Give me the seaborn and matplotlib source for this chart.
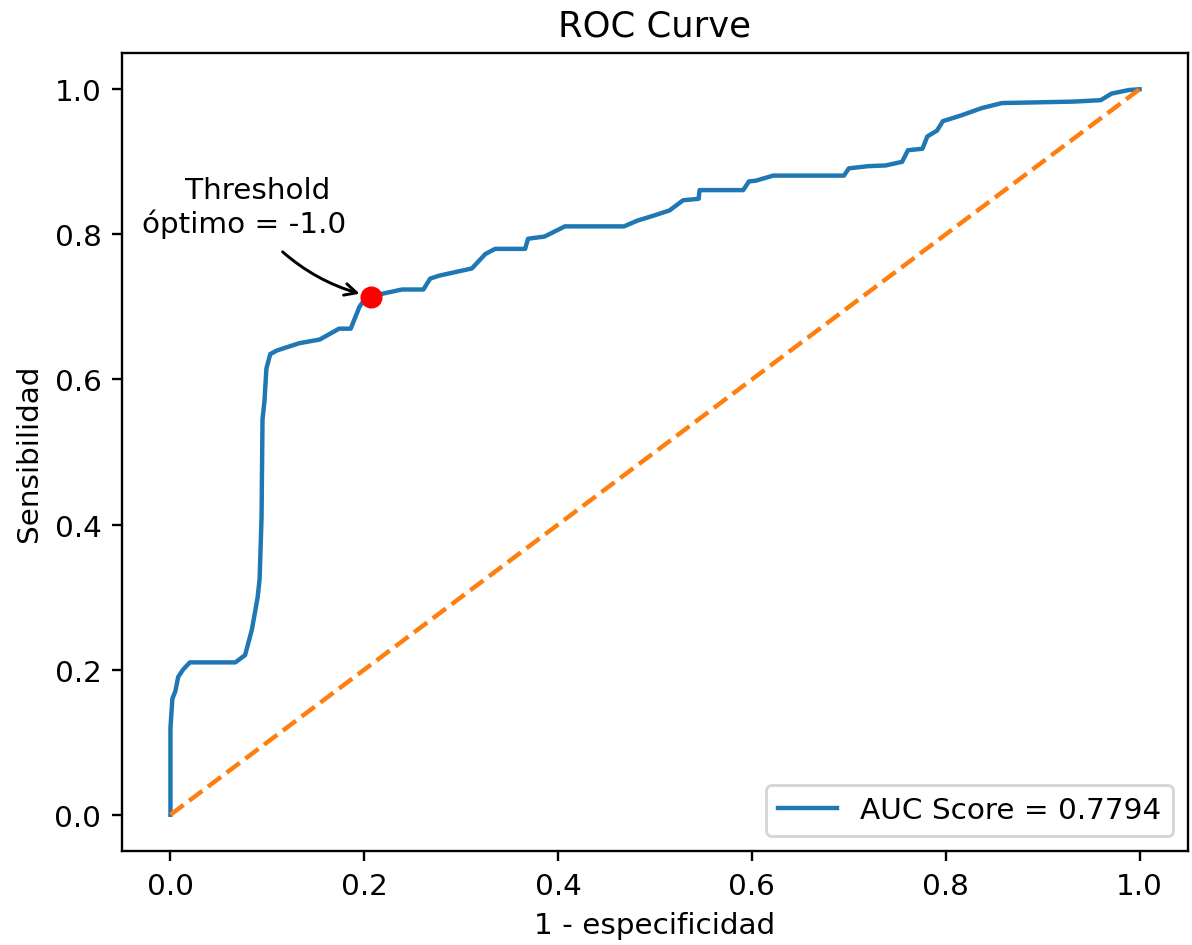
import matplotlib
matplotlib.use("Agg")
import matplotlib.pyplot as plt
import seaborn as sns
import pandas as pd
import numpy as np

fpr = [0.0, 0.0, 0.002, 0.005, 0.008, 0.013, 0.02, 0.067, 0.077, 0.084, 0.090, 0.092,
       0.094, 0.095, 0.097, 0.099, 0.103, 0.110, 0.133, 0.154, 0.174, 0.186, 0.195, 0.200,
       0.207, 0.218, 0.239, 0.261, 0.268, 0.277, 0.294, 0.311, 0.325, 0.335, 0.366, 0.369,
       0.386, 0.407, 0.468, 0.482, 0.499, 0.515, 0.529, 0.545, 0.546, 0.591, 0.597, 0.604,
       0.622, 0.695, 0.700, 0.720, 0.738, 0.755, 0.761, 0.776, 0.781, 0.791, 0.797, 0.816,
       0.837, 0.858, 0.932, 0.960, 0.971, 0.989, 1.0]
tpr = [0.0, 0.12, 0.16, 0.17, 0.19, 0.20, 0.21, 0.21, 0.22, 0.255, 0.30, 0.325,
       0.41, 0.545, 0.57, 0.615, 0.635, 0.64, 0.65, 0.655, 0.67, 0.67, 0.70, 0.71,
       0.714, 0.718, 0.724, 0.724, 0.739, 0.743, 0.748, 0.753, 0.773, 0.780, 0.780, 0.794,
       0.797, 0.811, 0.811, 0.819, 0.826, 0.833, 0.847, 0.849, 0.861, 0.861, 0.873, 0.874,
       0.881, 0.881, 0.891, 0.894, 0.895, 0.900, 0.916, 0.918, 0.935, 0.943, 0.956, 0.964,
       0.974, 0.981, 0.983, 0.985, 0.994, 0.999, 1.0]
diag = [0.0, 1.0]
opt_fpr = 0.207
opt_tpr = 0.714
auc_label = "AUC Score = 0.7794"
annot_text = "   Threshold\nóptimo = -1.0"

df = pd.DataFrame({"fpr": fpr, "tpr": tpr})

dpi = 212
fig = plt.figure(figsize=(1192 / dpi, 946 / dpi), dpi=dpi)
ax = fig.add_axes([122 / 1192, 1 - 852 / 946, (1188 - 122) / 1192, (852 - 54) / 946])

sns.lineplot(data=df, x="fpr", y="tpr", ax=ax, sort=False, estimator=None,
             color="C0", linewidth=1.5, label=auc_label)
ax.plot(diag, diag, color="C1", linestyle="--", linewidth=1.5)
ax.plot([opt_fpr], [opt_tpr], "o", color="red", markersize=6.5)
ax.annotate(annot_text, xy=(opt_fpr, opt_tpr), xytext=(0.076, 0.838),
            ha="center", va="center", fontsize=10,
            arrowprops=dict(arrowstyle="->", color="black", lw=1.0,
                            connectionstyle="arc3,rad=0.2", shrinkA=4, shrinkB=4))

ax.set_title("ROC Curve", fontsize=12)
ax.set_xlabel("1 - especificidad")
ax.set_ylabel("Sensibilidad")
ax.set_xticks([0.0, 0.2, 0.4, 0.6, 0.8, 1.0])
ax.set_yticks([0.0, 0.2, 0.4, 0.6, 0.8, 1.0])
ax.legend(loc="lower right")

fig.savefig("out.png", dpi=dpi)
